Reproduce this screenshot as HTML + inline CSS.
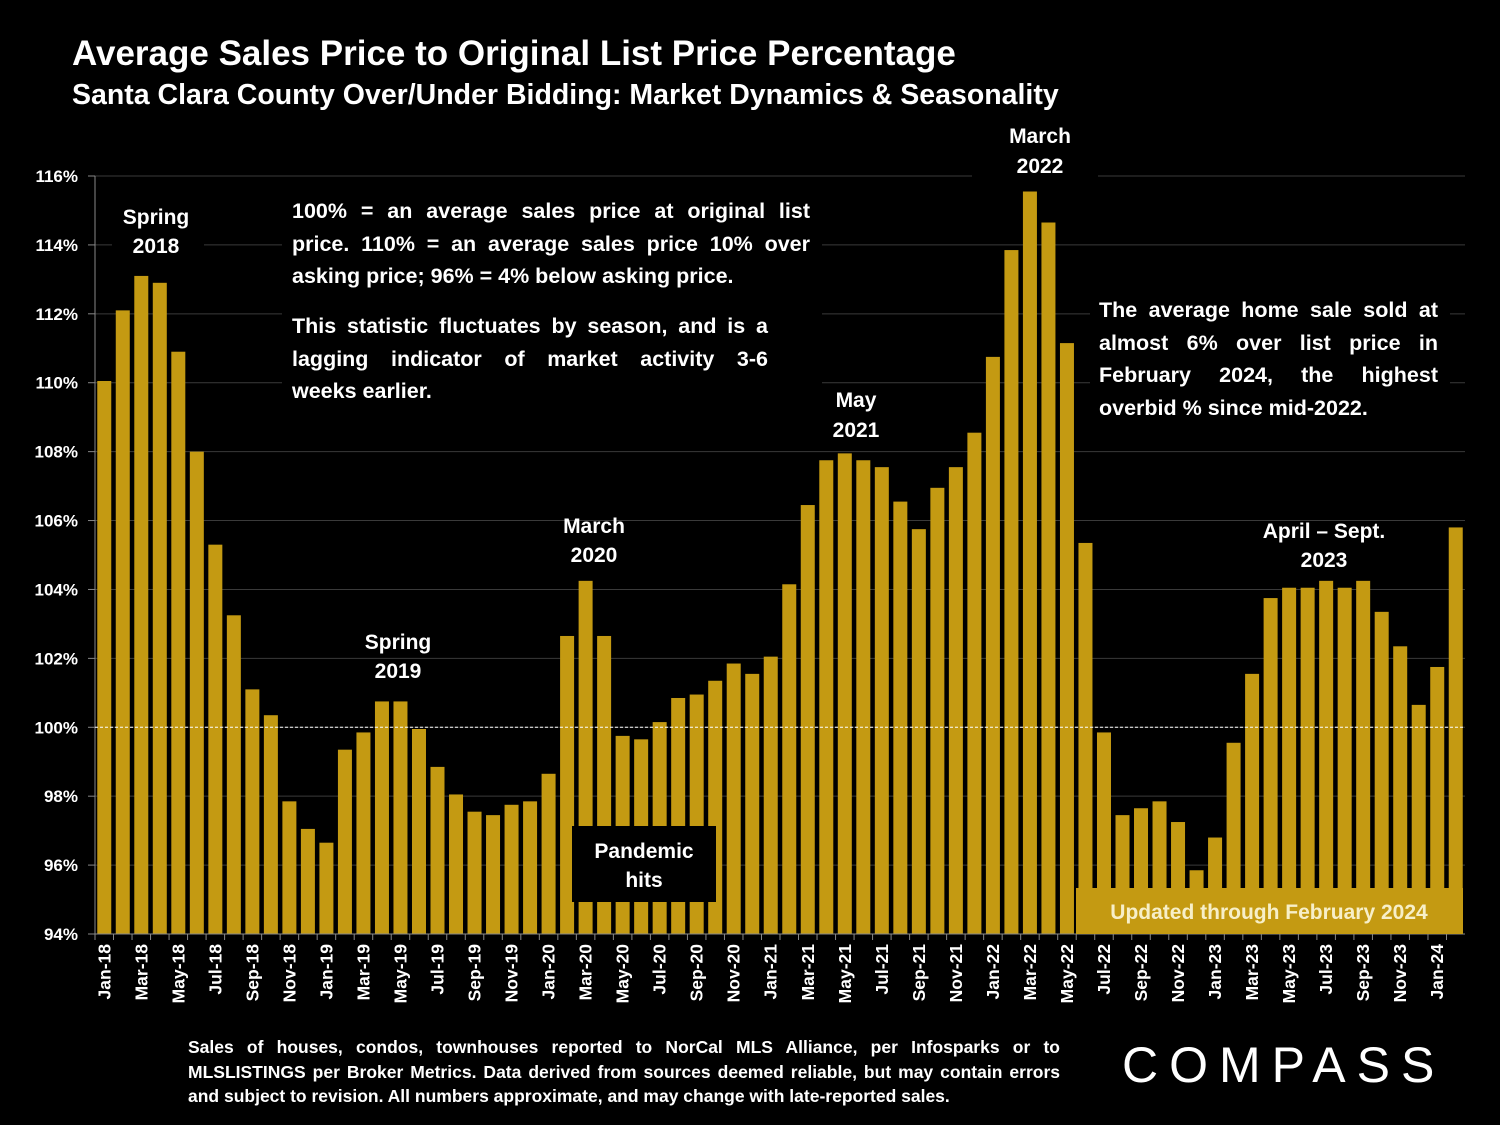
<!DOCTYPE html>
<html><head><meta charset="utf-8"><style>
body{margin:0;background:#000;width:1500px;height:1125px;overflow:hidden;font-family:"Liberation Sans",sans-serif;color:#fff}
.t{position:absolute;font-weight:bold;color:#fff}
</style></head><body>
<div class="t" style="left:72px;top:34px;font-size:35px">Average Sales Price to Original List Price Percentage</div>
<div class="t" style="left:72px;top:79px;font-size:28.5px">Santa Clara County Over/Under Bidding: Market Dynamics &amp; Seasonality</div>
<svg id="c" width="1500" height="1125" style="position:absolute;left:0;top:0;font-family:'Liberation Sans',sans-serif"></svg>
<script>
const months=["Jan","Feb","Mar","Apr","May","Jun","Jul","Aug","Sep","Oct","Nov","Dec"];
const categories=[];
for(let y=18;y<=24;y++)for(let m=0;m<12;m++){if(y===24&&m>1)break;categories.push(months[m]+"-"+y);}
const values=[110.05,112.1,113.1,112.9,110.9,108.0,105.3,103.25,101.1,100.35,97.85,97.05,
96.65,99.35,99.85,100.75,100.75,99.95,98.85,98.05,97.55,97.45,97.75,97.85,
98.65,102.65,104.25,102.65,99.75,99.65,100.15,100.85,100.95,101.35,101.85,101.55,
102.05,104.15,106.45,107.75,107.95,107.75,107.55,106.55,105.75,106.95,107.55,108.55,
110.75,113.85,115.55,114.65,111.15,105.35,99.85,97.45,97.65,97.85,97.25,95.85,
96.8,99.55,101.55,103.75,104.05,104.05,104.25,104.05,104.25,103.35,102.35,100.65,
101.75,105.8];
const yTicks=[94,96,98,100,102,104,106,108,110,112,114,116];
const x0=95,x1=1465,yMin=94,yMax=116,py0=934,py1=176;
const slot=(x1-x0)/categories.length;
const X=i=>x0+slot*(i+0.5);
const Y=v=>py0-(v-yMin)/(yMax-yMin)*(py0-py1);
const svg=document.getElementById('c');const NS="http://www.w3.org/2000/svg";
function mk(t,a,p){const e=document.createElementNS(NS,t);for(const k in a)e.setAttribute(k,a[k]);(p||svg).appendChild(e);return e;}
yTicks.forEach(v=>{
 if(v>94){const g=mk('line',{x1:x0,x2:x1,y1:Y(v),y2:Y(v),stroke:'#3a3a3a','stroke-width':1});
 
 }
 const t=mk('text',{x:78,y:Y(v)+6,'text-anchor':'end','font-size':17,'font-weight':'bold',fill:'#fff'});t.textContent=v+'%';
 
 
 mk('line',{x1:88,x2:x0,y1:Y(v),y2:Y(v),stroke:'#888'});
});
mk('line',{x1:x0,x2:x0,y1:py1,y2:py0,stroke:'#888'});
values.forEach((v,i)=>{
 const r=mk('rect',{x:X(i)-7,y:Y(v),width:14,height:py0-Y(v),fill:'#c49a12'});
 
 
});
const ref=mk('line',{x1:x0,x2:x1,y1:Y(100),y2:Y(100),stroke:'#fff','stroke-dasharray':'3,2','stroke-width':1});


mk('line',{x1:x0,x2:x1,y1:py0,y2:py0,stroke:'#888'});
categories.forEach((c,i)=>{
 mk('line',{x1:x0+slot*i,x2:x0+slot*i,y1:py0,y2:py0+6,stroke:'#888'});
 if(i%2===0){const t=mk('text',{transform:`translate(${X(i)+6},${py0+10}) rotate(-90)`,'text-anchor':'end','font-size':17.5,'font-weight':'bold',fill:'#fff'});t.textContent=c;
 
 }
});
function box(x,y,w,h,fill){mk('rect',{x,y,width:w,height:h,fill});}
box(972,120,126,62,'#000');box(112,200,92,62,'#000');box(282,190,540,220,'#000');box(1090,290,360,140,'#000');
box(572,826,144,76,'#000');box(1076,888,387,46,'#c49a12');
function lab(x,y,s,name,fill,size){const t=mk('text',{x,y,'text-anchor':'middle','font-size':size||21,'font-weight':'bold',fill:fill||'#fff'});t.textContent=s;
 
 }
lab(156,224,'Spring','annotation-spring-2018');lab(156,253,'2018','annotation-spring-2018');
lab(1040,143,'March','annotation-march-2022');lab(1040,173,'2022','annotation-march-2022');
lab(398,649,'Spring','annotation-spring-2019');lab(398,678,'2019','annotation-spring-2019');
lab(594,533,'March','annotation-march-2020');lab(594,562,'2020','annotation-march-2020');
lab(856,407,'May','annotation-may-2021');lab(856,437,'2021','annotation-may-2021');
lab(1324,538,'April – Sept.','annotation-april-sept-2023');lab(1324,567,'2023','annotation-april-sept-2023');
lab(644,858,'Pandemic','annotation-pandemic');lab(644,887,'hits','annotation-pandemic');
lab(1269,919,'Updated through February 2024','updated-label','#f7efc8',21);
</script>
<div class="t" style="left:292px;top:195px;width:518px;font-size:21.5px;line-height:32.5px;text-align:justify;text-align-last:left">100% = an average sales price at original list price. 110% = an average sales price 10% over asking price; 96% = 4% below asking price.</div>
<div class="t" style="left:292px;top:310px;width:476px;font-size:21.5px;line-height:32.5px;text-align:justify;text-align-last:left">This statistic fluctuates by season, and is a lagging indicator of market activity 3-6 weeks&nbsp;earlier.</div>
<div class="t" style="left:1099px;top:294px;width:339px;font-size:21.5px;line-height:32.5px;text-align:justify;text-align-last:left">The average home sale sold at almost 6% over list price in February 2024, the highest overbid % since mid-2022.</div>
<div class="t" style="left:188px;top:1035px;width:872px;font-size:17.5px;line-height:24.5px;text-align:justify;text-align-last:left">Sales of houses, condos, townhouses reported to NorCal MLS Alliance, per Infosparks or to MLSLISTINGS per Broker Metrics. Data derived from sources deemed reliable, but may contain errors and subject to revision. All numbers approximate, and may change with late-reported sales.</div>
<div style="position:absolute;left:1122px;top:1036px;font-size:50px;letter-spacing:11px;color:#fff;font-family:'Liberation Sans',sans-serif">COMPASS</div>
</body></html>
